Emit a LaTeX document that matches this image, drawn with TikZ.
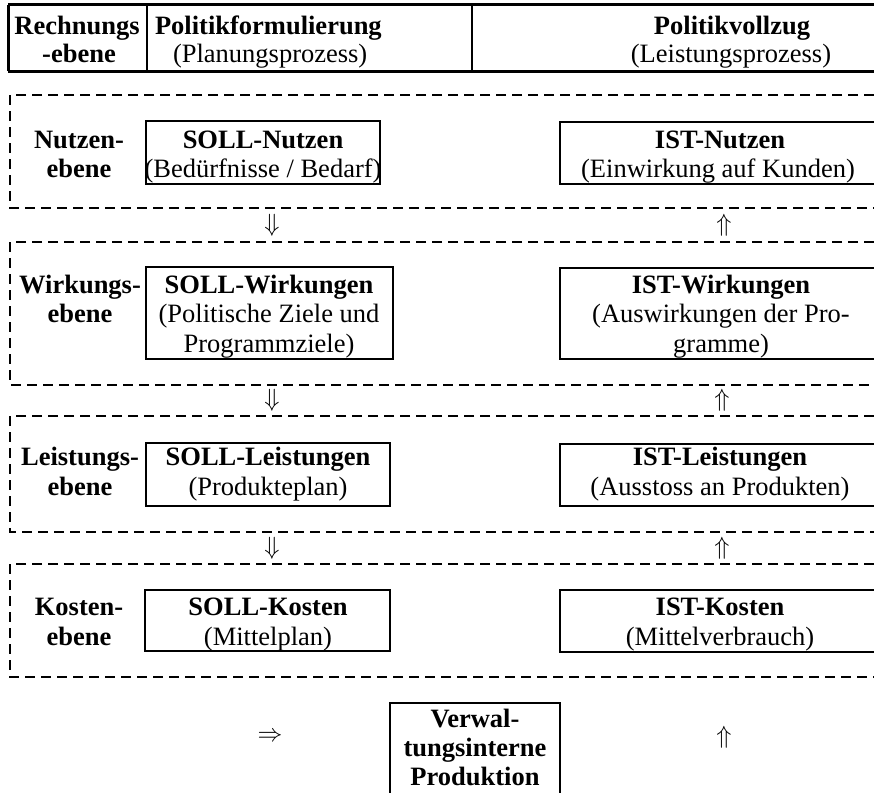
\documentclass[tikz,border=0pt]{standalone}
\usepackage{fontspec}
\setmainfont{Liberation Serif}
\begin{document}
\begin{tikzpicture}[x=1pt,y=-1pt,
  every node/.style={font=\fontsize{26.5}{29.5}\selectfont, inner sep=0pt, outer sep=0pt},
  lbl/.style={anchor=base, font=\fontsize{26.5}{29.5}\selectfont\bfseries},
  txt/.style={anchor=base},
  hdrline/.style={line width=3pt},
  sepline/.style={line width=2pt},
  lvl/.style={dash pattern=on 10pt off 6pt, line width=1.3pt},
  sbox/.style={draw, line width=1.6pt, rectangle},
  arr/.style={anchor=center, font=\fontsize{25}{25}\selectfont}
]
\useasboundingbox (0,0) rectangle (874,792);

% ---------- header ----------
\draw[hdrline] (8,5) -- (874,5);
\draw[hdrline] (8,71) -- (874,71);
\draw[hdrline] (8,5) -- (8,71);
\draw[sepline] (147,5) -- (147,71);
\draw[sepline] (472,5) -- (472,71);
\node[lbl] (h1a) at (77,35) {Rechnungs};
\node[lbl] (h1b) at (79,63) {-ebene};
\node[lbl, anchor=base west] (h2a) at (155,35) {Politikformulierung};
\node[txt, anchor=base west] (h2b) at (173,63) {(Planungsprozess)};
\node[lbl] (h3a) at (732,35) {Politikvollzug};
\node[txt] (h3b) at (731,63) {(Leistungsprozess)};

% ---------- level frames (open to the right) ----------
\draw[lvl] (874,95) -- (10,95) -- (10,208) -- (874,208);
\draw[lvl] (874,242) -- (10,242) -- (10,385) -- (874,385);
\draw[lvl] (874,416) -- (10,416) -- (10,532) -- (874,532);
\draw[lvl] (874,564) -- (10,564) -- (10,677) -- (874,677);

% ---------- Nutzenebene ----------
\node[lbl] (nA) at (79,148) {Nutzen-};
\node[lbl] (nB) at (79,177) {ebene};
\node[sbox, minimum width=234pt, minimum height=63pt] (sollN) at (263,152.5) {};
\node[lbl] (sollNa) at (263,148) {SOLL-Nutzen};
\node[txt] (sollNb) at (263,177) {(Bedürfnisse / Bedarf)};
\node[sbox, minimum width=320pt, minimum height=62pt] (istN) at (720,153) {};
\node[lbl] (istNa) at (720,148) {IST-Nutzen};
\node[txt] (istNb) at (718,177) {(Einwirkung auf Kunden)};

% ---------- Wirkungsebene ----------
\node[lbl] (wA) at (80,293) {Wirkungs-};
\node[lbl] (wB) at (80,322.5) {ebene};
\node[sbox, minimum width=247pt, minimum height=92pt] (sollW) at (269.5,313) {};
\node[lbl] (sollWa) at (269,293) {SOLL-Wirkungen};
\node[txt] (sollWb) at (269,322.5) {(Politische Ziele und};
\node[txt] (sollWc) at (269,352) {Programmziele)};
\node[sbox, minimum width=320pt, minimum height=91pt] (istW) at (720,313.5) {};
\node[lbl] (istWa) at (721,293) {IST-Wirkungen};
\node[txt] (istWb) at (721,322.5) {(Auswirkungen der Pro-};
\node[txt] (istWc) at (721,352) {gramme)};

% ---------- Leistungsebene ----------
\node[lbl] (lA) at (80,465) {Leistungs-};
\node[lbl] (lB) at (80,495) {ebene};
\node[sbox, minimum width=244pt, minimum height=63pt] (sollL) at (268,474.5) {};
\node[lbl] (sollLa) at (268,465) {SOLL-Leistungen};
\node[txt] (sollLb) at (268,495) {(Produkteplan)};
\node[sbox, minimum width=320pt, minimum height=62pt] (istL) at (720,475) {};
\node[lbl] (istLa) at (720,465) {IST-Leistungen};
\node[txt] (istLb) at (720,495) {(Ausstoss an Produkten)};

% ---------- Kostenebene ----------
\node[lbl] (kA) at (79,615) {Kosten-};
\node[lbl] (kB) at (79,645) {ebene};
\node[sbox, minimum width=245pt, minimum height=61pt] (sollK) at (267.5,620.5) {};
\node[lbl] (sollKa) at (268,615) {SOLL-Kosten};
\node[txt] (sollKb) at (268,645) {(Mittelplan)};
\node[sbox, minimum width=320pt, minimum height=62pt] (istK) at (720,621) {};
\node[lbl] (istKa) at (720,615) {IST-Kosten};
\node[txt] (istKb) at (720,645) {(Mittelverbrauch)};

% ---------- arrows between levels ----------
\node[arr] (d1) at (272,225) {$\Downarrow$};
\node[arr] (d2) at (272,400) {$\Downarrow$};
\node[arr] (d3) at (272,548) {$\Downarrow$};
\node[arr] (u1) at (724,225) {$\Uparrow$};
\node[arr] (u2) at (722,400) {$\Uparrow$};
\node[arr] (u3) at (722,548) {$\Uparrow$};

% ---------- bottom ----------
\node[sbox, minimum width=170pt, minimum height=100pt] (verw) at (475,753) {};
\node[lbl] (vA) at (475,727) {Verwal-};
\node[lbl] (vB) at (475,756) {tungsinterne};
\node[lbl] (vC) at (475,785) {Produktion};
\node[arr] (r1) at (270,737) {$\Rightarrow$};
\node[arr] (u4) at (724,737) {$\Uparrow$};
\end{tikzpicture}
\end{document}
